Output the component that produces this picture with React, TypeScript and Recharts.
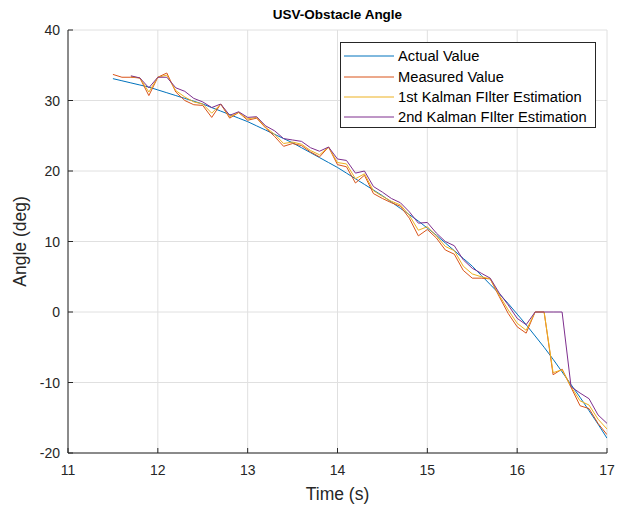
import React from 'react';
import { LineChart, Line, XAxis, YAxis, CartesianGrid } from 'recharts';

const times = [11.5, 11.6, 11.7, 11.8, 11.9, 12.0, 12.1, 12.2, 12.3, 12.4, 12.5, 12.6, 12.7, 12.8, 12.9, 13.0, 13.1, 13.2, 13.3, 13.4, 13.5, 13.6, 13.7, 13.8, 13.9, 14.0, 14.1, 14.2, 14.3, 14.4, 14.5, 14.6, 14.7, 14.8, 14.9, 15.0, 15.1, 15.2, 15.3, 15.4, 15.5, 15.6, 15.7, 15.8, 15.9, 16.0, 16.1, 16.2, 16.3, 16.4, 16.5, 16.6, 16.7, 16.8, 16.9, 17.0];

const actualValue = [33.1, 32.8, 32.5, 32.2, 31.9, 31.5, 31.1, 30.7, 30.3, 29.9, 29.5, 29.0, 28.5, 28.0, 27.5, 27.0, 26.4, 25.8, 25.2, 24.6, 24.0, 23.3, 22.6, 21.9, 21.2, 20.5, 19.7, 18.9, 18.1, 17.3, 16.5, 15.6, 14.7, 13.8, 12.9, 11.9, 10.9, 9.8, 8.7, 7.6, 6.5, 5.2, 3.9, 2.6, 1.2, -0.3, -1.8, -3.4, -5.0, -6.7, -8.5, -10.3, -12.1, -14.0, -15.9, -17.9];

const measuredValue = [33.7, 33.3, 33.3, 33.2, 30.7, 33.3, 33.9, 31.2, 30.0, 29.4, 29.3, 27.6, 29.5, 27.5, 28.3, 27.2, 27.5, 26.1, 24.9, 23.5, 23.9, 23.6, 22.7, 22.0, 23.4, 20.9, 20.6, 18.3, 19.4, 16.8, 16.1, 15.5, 15.0, 13.3, 10.8, 11.7, 10.5, 8.8, 8.2, 5.9, 4.8, 4.8, 4.7, 2.2, -0.2, -2.1, -3.0, 0, 0, -8.9, -8.1, -10.7, -13.3, -13.7, -15.8, -17.4];

const kalman1 = [null, null, 33.4, 33.2, 31.2, 33.3, 33.6, 31.4, 30.5, 29.8, 29.5, 28.2, 29.5, 27.7, 28.3, 27.4, 27.6, 26.2, 25.2, 23.9, 24.1, 23.8, 22.9, 22.3, 23.4, 21.2, 21.0, 18.9, 19.6, 17.2, 16.4, 15.7, 15.2, 13.7, 11.6, 12.1, 10.8, 9.3, 8.7, 6.5, 5.4, 5.0, 4.7, 2.4, 0.3, -1.6, -2.6, 0, 0, -8.6, -8.2, -10.6, -12.6, -13.2, -15.2, -16.6];

const kalman2 = [null, null, 33.5, 33.2, 31.8, 33.3, 33.3, 31.8, 31.3, 30.3, 29.8, 29.0, 29.5, 27.9, 28.4, 27.6, 27.7, 26.4, 25.7, 24.6, 24.4, 24.2, 23.3, 22.8, 23.4, 21.7, 21.5, 19.7, 20.0, 17.8, 17.0, 16.1, 15.5, 14.2, 12.6, 12.7, 11.2, 10.0, 9.4, 7.4, 6.2, 5.5, 4.8, 2.7, 1.0, -0.9, -1.8, 0, 0, 0, 0, -10.6, -11.5, -12.3, -14.6, -15.8];

const xTicks = [11, 12, 13, 14, 15, 16, 17];
const yTicks = [-20, -10, 0, 10, 20, 30, 40];

const seriesMeta = [
  { key: 'actual', name: 'Actual Value', color: '#0072BD' },
  { key: 'measured', name: 'Measured Value', color: '#D95319' },
  { key: 'kf1', name: '1st Kalman FIlter Estimation', color: '#EDB120' },
  { key: 'kf2', name: '2nd Kalman FIlter Estimation', color: '#7E2F8E' },
];

const data = times.map((t, i) => ({
  t,
  actual: actualValue[i],
  measured: measuredValue[i],
  kf1: kalman1[i],
  kf2: kalman2[i],
}));

const FONT = '"Liberation Sans", Arial, Helvetica, sans-serif';
const AXIS = '#262626';
const TICK_LEN = 5;
const M = 8;

const BottomTick = (props: any) => {
  const { x, y, payload } = props;
  const axisY = y - M;
  return (
    <g>
      <line x1={x} y1={axisY} x2={x} y2={axisY - TICK_LEN} stroke={AXIS} strokeWidth={1} />
      <text x={x} y={y + 2} dy="0.85em" textAnchor="middle" fontSize={14} fill={AXIS} fontFamily={FONT}>
        {payload.value}
      </text>
    </g>
  );
};

const TopTick = (props: any) => {
  const { x, y } = props;
  const axisY = y + M;
  return <line x1={x} y1={axisY} x2={x} y2={axisY + TICK_LEN} stroke={AXIS} strokeWidth={1} />;
};

const LeftTick = (props: any) => {
  const { x, y, payload } = props;
  const axisX = x + M;
  return (
    <g>
      <line x1={axisX} y1={y} x2={axisX + TICK_LEN} y2={y} stroke={AXIS} strokeWidth={1} />
      <text x={x} y={y} dy="0.36em" textAnchor="end" fontSize={14} fill={AXIS} fontFamily={FONT}>
        {payload.value}
      </text>
    </g>
  );
};

const RightTick = (props: any) => {
  const { x, y } = props;
  const axisX = x - M;
  return <line x1={axisX} y1={y} x2={axisX - TICK_LEN} y2={y} stroke={AXIS} strokeWidth={1} />;
};

const XLabel = (props: any) => {
  const vb = props.viewBox || {};
  const cx = vb.x + vb.width / 2;
  const cy = vb.y + 41;
  return (
    <text x={cx} y={cy} textAnchor="middle" dominantBaseline="central" fontSize={17.5} fill={AXIS} fontFamily={FONT}>
      Time (s)
    </text>
  );
};

const YLabel = (props: any) => {
  const vb = props.viewBox || {};
  const cx = vb.x + 20;
  const cy = vb.y + vb.height / 2;
  return (
    <text x={cx} y={cy} transform={`rotate(-90 ${cx} ${cy})`} textAnchor="middle" dominantBaseline="central" fontSize={17.5} fill={AXIS} fontFamily={FONT}>
      Angle (deg)
    </text>
  );
};

export default function App() {
  return (
    <div style={{ position: 'absolute', left: 0, top: 0, width: 626, height: 510, background: '#fff', fontFamily: FONT }}>
      <div style={{ position: 'absolute', left: 68, top: 6, width: 539, textAlign: 'center', fontWeight: 'bold', fontSize: 13.5, lineHeight: '18px', color: '#000' }}>
        USV-Obstacle Angle
      </div>
      <LineChart width={626} height={510} data={data} margin={{ top: 30, right: 19, bottom: 0, left: 0 }}>
        <CartesianGrid stroke="#E0E0E0" strokeWidth={1} horizontalValues={yTicks} verticalValues={xTicks} />
        <XAxis
          dataKey="t"
          type="number"
          domain={[11, 17]}
          ticks={xTicks}
          allowDataOverflow
          height={57}
          tickSize={0}
          tickMargin={M}
          tick={<BottomTick />}
          stroke={AXIS}
          label={<XLabel />}
        />
        <XAxis
          xAxisId="top"
          orientation="top"
          dataKey="t"
          type="number"
          domain={[11, 17]}
          ticks={xTicks}
          allowDataOverflow
          height={0}
          tickSize={0}
          tickMargin={M}
          tick={<TopTick />}
          stroke={AXIS}
        />
        <YAxis
          type="number"
          domain={[-20, 40]}
          ticks={yTicks}
          allowDataOverflow
          width={68}
          tickSize={0}
          tickMargin={M}
          tick={<LeftTick />}
          stroke={AXIS}
          label={<YLabel />}
        />
        <YAxis
          yAxisId="right"
          orientation="right"
          type="number"
          domain={[-20, 40]}
          ticks={yTicks}
          allowDataOverflow
          width={0}
          tickSize={0}
          tickMargin={M}
          tick={<RightTick />}
          stroke={AXIS}
        />
        {seriesMeta.map((s) => (
          <Line
            key={s.key}
            dataKey={s.key}
            name={s.name}
            type="linear"
            stroke={s.color}
            strokeWidth={1}
            dot={false}
            activeDot={false}
            isAnimationActive={false}
            connectNulls={false}
          />
        ))}
      </LineChart>
      <div style={{ position: 'absolute', left: 340, top: 42, width: 256, height: 86, boxSizing: 'border-box', border: `1px solid ${AXIS}`, background: '#fff', paddingTop: 3 }}>
        {seriesMeta.map((s) => (
          <div key={s.key} style={{ position: 'relative', height: 20.4, display: 'flex', alignItems: 'center' }}>
            <svg width={52} height={10} style={{ marginLeft: 2 }}>
              <line x1={1} y1={5} x2={51} y2={5} stroke={s.color} strokeWidth={1} />
            </svg>
            <span style={{ marginLeft: 3, fontSize: 14.7, color: '#000', whiteSpace: 'nowrap' }}>{s.name}</span>
          </div>
        ))}
      </div>
    </div>
  );
}
